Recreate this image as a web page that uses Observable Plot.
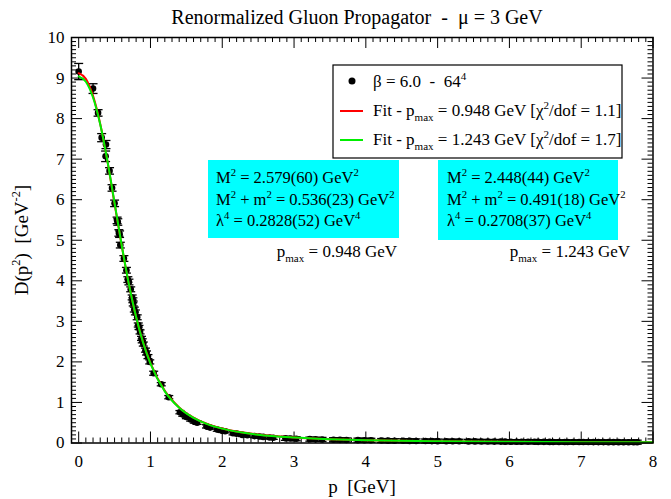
<!DOCTYPE html>
<html><head><meta charset="utf-8">
<script src="https://cdn.jsdelivr.net/npm/d3@7"></script>
<script src="https://cdn.jsdelivr.net/npm/@observablehq/plot@0.6"></script>
<style>
body{margin:0;background:#fff}
svg text{white-space:pre}
</style>
</head><body><div id="chart"></div>
<script>
// ---- data ----
const momentum = [0.00,0.20,0.27,0.32,0.38,0.375,0.43,0.465,0.50,0.535,0.545,0.56,0.57,0.58,0.63,0.665,0.685,0.70,0.725,0.745,0.755,0.76,0.775,0.79,0.815,0.83,0.84,0.855,0.875,0.885,0.90,0.93,0.945,0.965,0.99,1.045,1.15,1.255,
1.41,1.45,1.50,1.56,1.61,1.65,1.78,1.83,1.93,2.00,2.04,2.15,2.20,2.28,2.35,2.45,2.52,2.57,2.66,2.71,
2.88,2.95,3.03,3.22,3.30,3.39,3.55,3.64,3.73,3.89,3.98,4.07,4.22,4.31,4.40,4.52,4.61,4.70,4.83,4.92,5.00,5.12,5.21,5.30,5.43,5.52,5.61,5.70,5.79,5.88,5.94,6.02,6.10,6.17,6.26,6.35,6.40,6.48,6.56,6.61,6.69,6.77,6.81,6.89,6.97,7.03,7.10,7.17,7.24,7.31,7.38,7.45,7.52,7.59,7.66,7.73,7.78];
const propagator = [9.16,8.74,8.14,7.53,7.36,7.07,6.71,6.29,5.91,5.49,5.45,5.18,5.15,4.88,4.55,4.26,4.03,3.97,3.79,3.59,3.52,3.44,3.29,3.22,3.10,2.91,2.85,2.74,2.58,2.52,2.44,2.29,2.22,2.13,2.00,1.72,1.45,1.13,
0.76,0.70,0.64,0.58,0.53,0.50,0.41,0.38,0.33,0.30,0.29,0.24,0.23,0.20,0.19,0.17,0.16,0.15,0.135,0.13,
0.115,0.11,0.105,0.095,0.09,0.088,0.08,0.078,0.075,0.07,0.068,0.066,0.06,0.058,0.056,0.054,0.052,0.051,0.048,0.047,0.046,0.044,0.043,0.042,0.040,0.039,0.038,0.036,0.035,0.035,0.033,0.032,0.032,0.031,0.030,0.029,0.028,0.028,0.027,0.026,0.026,0.025,0.025,0.024,0.024,0.023,0.023,0.022,0.022,0.022,0.021,0.021,0.021,0.020,0.020,0.020,0.020];
const propagatorError = [0.20,0.12,0.08,0.10,0.10,0.13,0.08,0.08,0.08,0.08,0.08,0.08,0.08,0.07,0.07,0.07,0.07,0.07,0.06,0.06,0.06,0.06,0.06,0.06,0.06,0.05,0.05,0.05,0.05,0.05,0.05,0.05,0.05,0.05,0.05,0.05,0.04,0.04,
0.04,0.04,0.04,0.04,0.04,0.04,0.04,0.04,0.04,0.04,0.04,0.04,0.04,0.04,0.04,0.04,0.04,0.04,0.04,0.04,
0.05,0.05,0.05,0.05,0.05,0.05,0.05,0.05,0.05,0.05,0.05,0.05,0.05,0.05,0.05,0.05,0.05,0.05,0.05,0.05,0.05,0.05,0.05,0.05,0.05,0.05,0.05,0.05,0.05,0.05,0.05,0.05,0.05,0.05,0.05,0.05,0.05,0.05,0.05,0.05,0.05,0.05,0.05,0.05,0.05,0.05,0.05,0.05,0.05,0.05,0.05,0.05,0.05,0.05,0.05,0.05,0.05];

// fit curves
const fitMomentum = [0,0.1,0.2,0.3,0.4,0.5,0.6,0.7,0.8,0.9,1.0,1.2,1.4,1.6,1.8,2.0,2.5,3.0,3.5,4.0,5.0,6.0,7.0,8.0];
const fitRed   = [9.12,8.98,8.56,7.87,6.95,5.90,4.86,3.91,3.11,2.47,1.97,1.285,0.877,0.626,0.465,0.357,0.207,0.1345,0.0945,0.0701,0.0432,0.0293,0.0213,0.0161];
const fitGreen = [9.04,8.91,8.52,7.86,6.96,5.92,4.87,3.91,3.11,2.46,1.96,1.274,0.869,0.620,0.460,0.354,0.205,0.1336,0.0940,0.0698,0.0431,0.0293,0.0212,0.0161];

const xTicks = [0,1,2,3,4,5,6,7,8];
const yTicks = [0,1,2,3,4,5,6,7,8,9,10];

const titleText = "Renormalized Gluon Propagator  -  \u03bc = 3 GeV";
const legendLabels = [
  [["\u03b2 = 6.0  -  64"],["4","sup"]],
  [["Fit - p"],["max","sub"],[" = 0.948 GeV [\u03c7"],["2","sup"],["/dof = 1.1]"]],
  [["Fit - p"],["max","sub"],[" = 1.243 GeV [\u03c7"],["2","sup"],["/dof = 1.7]"]]
];
const boxLeft = [
  [["M"],["2","sup"],[" = 2.579(60) GeV"],["2","sup"]],
  [["M"],["2","sup"],[" + m"],["2","sup"],[" = 0.536(23) GeV"],["2","sup"]],
  [["\u03bb"],["4","sup"],[" = 0.2828(52) GeV"],["4","sup"]]
];
const boxRight = [
  [["M"],["2","sup"],[" = 2.448(44) GeV"],["2","sup"]],
  [["M"],["2","sup"],[" + m"],["2","sup"],[" = 0.491(18) GeV"],["2","sup"]],
  [["\u03bb"],["4","sup"],[" = 0.2708(37) GeV"],["4","sup"]]
];
const pmaxLeft = [["p"],["max","sub"],[" = 0.948 GeV"]];
const pmaxRight = [["p"],["max","sub"],[" = 1.243 GeV"]];

// ---- layout ----
const W = 671, H = 499;
const mL = 71, mR = 18.5, mT = 37, mB = 56.5;
const xDom = [-0.1, 8], yDom = [0, 10];
const pxX = (W - mL - mR) / (xDom[1] - xDom[0]);
const pxY = (H - mT - mB) / (yDom[1] - yDom[0]);
const FONT = '"Liberation Serif", "Times New Roman", serif';

const points = momentum.map((p, i) => ({p, D: propagator[i], e: propagatorError[i]}));
const fitsR = fitMomentum.map((p, i) => ({p, D: fitRed[i]}));
const fitsG = fitMomentum.map((p, i) => ({p, D: fitGreen[i]}));

const xMinor = d3.range(-1, 81).map(i => i / 10).filter(v => Math.abs(v - Math.round(v)) > 1e-6);
const yMinor = d3.range(0, 101).map(i => i / 10).filter(v => Math.abs(v - Math.round(v)) > 1e-6);

const capSymbol = {draw(ctx, size) { const r = Math.sqrt(size / Math.PI); ctx.moveTo(-r, 0); ctx.lineTo(r, 0); }};

const majX = 11 / pxY, minX = 5 / pxY, majY = 11 / pxX, minY = 5 / pxX;

const plot = Plot.plot({
  width: W, height: H,
  marginLeft: mL, marginRight: mR, marginTop: mT, marginBottom: mB,
  style: {fontFamily: FONT, fontSize: "17px", background: "#fff", color: "#000"},
  x: {domain: xDom, label: null},
  y: {domain: yDom, label: null},
  marks: [
    // ticks (inward, all four sides)
    Plot.ruleX(xMinor, {y1: 0, y2: minX, stroke: "#000", strokeWidth: 1}),
    Plot.ruleX(xTicks, {y1: 0, y2: majX, stroke: "#000", strokeWidth: 1}),
    Plot.ruleX(xMinor, {y1: 10, y2: 10 - minX, stroke: "#000", strokeWidth: 1}),
    Plot.ruleX(xTicks, {y1: 10, y2: 10 - majX, stroke: "#000", strokeWidth: 1}),
    Plot.ruleY(yMinor, {x1: xDom[0], x2: xDom[0] + minY, stroke: "#000", strokeWidth: 1}),
    Plot.ruleY(yTicks, {x1: xDom[0], x2: xDom[0] + majY, stroke: "#000", strokeWidth: 1}),
    Plot.ruleY(yMinor, {x1: xDom[1], x2: xDom[1] - minY, stroke: "#000", strokeWidth: 1}),
    Plot.ruleY(yTicks, {x1: xDom[1], x2: xDom[1] - majY, stroke: "#000", strokeWidth: 1}),
    Plot.axisX({ticks: xTicks, tickSize: 0, tickPadding: 12, fontSize: 17, tickFormat: d => String(d), label: null}),
    Plot.axisY({ticks: yTicks, tickSize: 0, tickPadding: 7, fontSize: 17, tickFormat: d => String(d), label: null}),
    // data with error bars
    Plot.ruleX(points, {x: "p", y1: d => d.D - d.e, y2: d => d.D + d.e, stroke: "#000", strokeWidth: 1.3}),
    Plot.dot(points, {x: "p", y: d => d.D + d.e, symbol: capSymbol, r: 4.5, stroke: "#000", strokeWidth: 1.3}),
    Plot.dot(points, {x: "p", y: d => d.D - d.e, symbol: capSymbol, r: 4.5, stroke: "#000", strokeWidth: 1.3}),
    Plot.dot(points, {x: "p", y: "D", r: 3.3, fill: "#000", stroke: "none"}),
    // fits
    Plot.line(fitsR, {x: "p", y: "D", stroke: "#ff0000", strokeWidth: 2, curve: "monotone-x"}),
    Plot.line(fitsG, {x: "p", y: "D", stroke: "#00ee00", strokeWidth: 2, curve: "monotone-x"}),
    Plot.frame({stroke: "#000", strokeWidth: 1.5})
  ]
});

document.getElementById("chart").appendChild(plot);
const svg = d3.select(plot);
const ann = svg.append("g").attr("font-family", FONT).attr("fill", "#000");

function rich(x, y, parts, size, anchor) {
  const t = ann.append("text").attr("x", x).attr("y", y).attr("font-size", size).attr("text-anchor", anchor || "start");
  let cur = 0;
  for (const [s, kind] of parts) {
    const off = kind === "sup" ? -0.42 * size : kind === "sub" ? 0.3 * size : 0;
    const ts = t.append("tspan").attr("dy", off - cur).text(s);
    if (kind) ts.attr("font-size", size * 0.65);
    cur = off;
  }
  return t;
}

// title and axis labels
ann.append("text").attr("x", 357).attr("y", 24).attr("text-anchor", "middle").attr("font-size", 20).text(titleText);
rich(362, 493, [["p  [GeV]"]], 19, "middle");
rich(0, 0, [["D(p"],["2","sup"],[")  [GeV"],["-2","sup"],["]"]], 19, "middle").attr("transform", "translate(28,240) rotate(-90)");

// legend
ann.append("rect").attr("x", 333).attr("y", 65).attr("width", 289).attr("height", 93).attr("fill", "#fff").attr("stroke", "#000").attr("stroke-width", 1.2);
ann.append("circle").attr("cx", 352).attr("cy", 81).attr("r", 3.5).attr("fill", "#000");
ann.append("line").attr("x1", 340).attr("x2", 363).attr("y1", 111).attr("y2", 111).attr("stroke", "#ff0000").attr("stroke-width", 2);
ann.append("line").attr("x1", 340).attr("x2", 363).attr("y1", 140).attr("y2", 140).attr("stroke", "#00ee00").attr("stroke-width", 2);
rich(373, 87, legendLabels[0], 17);
rich(373, 116, legendLabels[1], 17);
rich(373, 145, legendLabels[2], 17);

// parameter boxes
ann.append("rect").attr("x", 208).attr("y", 160).attr("width", 191).attr("height", 78).attr("fill", "#00ffff");
ann.append("rect").attr("x", 438).attr("y", 160).attr("width", 180).attr("height", 80).attr("fill", "#00ffff");
boxLeft.forEach((line, i) => rich(216, 183 + i * 21.5, line, 16.5));
boxRight.forEach((line, i) => rich(447, 183 + i * 21.5, line, 16.5));
rich(397, 257, pmaxLeft, 17, "end");
rich(630, 257, pmaxRight, 17, "end");
</script>
</body></html>
